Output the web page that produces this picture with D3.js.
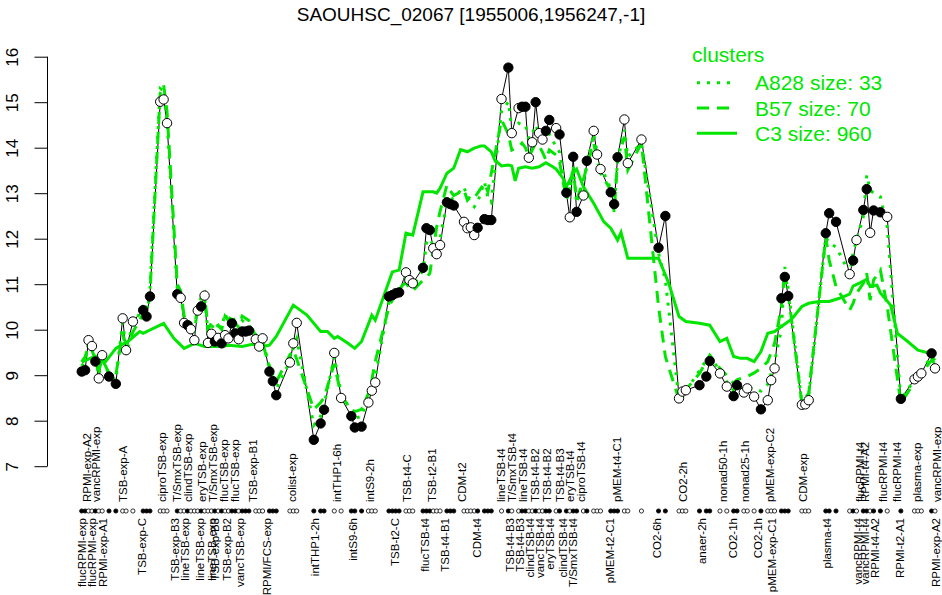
<!DOCTYPE html>
<html><head><meta charset="utf-8">
<script src="https://cdn.jsdelivr.net/npm/d3@7"></script>
<style>
body{margin:0;background:#fff}
svg{display:block}
text{font-family:"Liberation Sans",Arial,Helvetica,sans-serif}
</style>
</head><body>
<svg id="chart" width="942" height="595"></svg>
<script>
// ---- data ----
const title = "SAOUHSC_02067 [1955006,1956247,-1]";
const slots = [0,1,2,3,4,5,6,8,10,12,13,15,18,19,20,23,24,25,28,29,30,31,32,33,34,35,36,37,38,39,40,41,42,43,44,45,46,47,48,49,51,52,53,55,56,57,61,62,63,68,70,71,74,76,79,80,82,84,85,86,90,91,92,93,95,96,97,100,101,102,103,104,105,107,108,109,112,113,114,115,116,118,119,120,123,125,126,128,129,130,131,132,133,134,135,136,137,139,140,142,143,144,145,147,148,150,151,152,155,156,157,159,160,164,169,171,175,176,177,181,183,184,187,189,191,192,194,195,197,199,201,202,203,205,206,207,211,212,213,218,219,221,225,226,227,229,230,231,232,234,236,240,244,245,246,249,250];
const values = [9.08,9.11,9.77,9.64,9.30,8.93,9.44,8.97,8.81,10.25,9.55,10.18,10.43,10.29,10.73,15.01,15.06,14.54,10.78,10.70,10.15,10.10,10.01,9.77,10.42,10.51,10.75,9.71,9.91,9.74,9.82,9.70,9.88,9.81,10.14,9.92,9.79,9.96,9.96,9.98,9.79,9.63,9.81,9.08,8.87,8.56,9.28,9.70,10.15,7.58,7.94,8.24,9.49,8.50,8.10,7.85,7.87,8.40,8.66,8.84,10.73,10.76,10.80,10.82,11.26,11.09,11.02,11.36,12.23,12.19,11.79,11.66,11.86,12.80,12.76,12.73,12.37,12.23,12.25,12.08,12.24,12.43,12.41,12.41,15.07,15.76,14.32,14.87,14.90,14.90,13.78,14.12,15.00,14.32,14.18,14.37,14.61,14.43,14.29,13.01,12.47,13.80,12.59,12.95,13.71,14.37,13.85,13.53,13.02,12.76,13.79,14.62,13.66,14.18,11.80,12.50,8.49,8.64,8.67,8.78,8.97,9.31,9.04,8.75,8.54,8.78,8.62,8.71,8.53,8.25,8.45,8.89,9.15,10.69,11.16,10.74,8.35,8.36,8.45,12.12,12.56,12.37,11.22,11.52,11.97,12.63,13.09,12.13,12.62,12.58,12.48,8.48,8.91,8.97,9.04,9.48,9.15];
const filled = [1,1,0,0,1,0,0,1,1,0,0,0,1,1,1,0,0,0,1,0,0,1,0,0,0,1,0,0,0,1,0,1,0,0,1,1,0,1,1,1,0,0,0,1,1,1,0,0,0,1,1,1,0,0,1,1,1,0,0,0,1,1,1,1,0,0,0,1,1,1,0,0,0,1,1,1,0,0,0,0,1,1,1,1,0,1,0,0,1,1,0,0,1,0,0,1,1,0,1,1,0,1,1,0,1,0,0,0,1,1,1,0,0,0,1,1,0,0,0,1,1,1,0,0,1,1,0,0,0,1,0,0,0,1,1,1,0,0,0,1,1,1,0,1,0,1,1,0,1,1,0,1,0,0,0,1,0];
const b57 = [9.30,9.40,9.65,9.55,9.35,9.10,9.35,9.05,9.00,9.95,9.50,9.95,10.35,10.35,10.80,15.20,15.38,14.80,11.00,10.85,10.30,10.25,10.10,10.00,10.55,10.70,10.80,10.00,10.15,10.05,10.10,10.00,10.30,10.20,10.35,10.15,10.05,10.30,10.25,10.20,9.85,9.75,9.70,9.20,9.00,8.85,9.45,9.55,9.35,8.25,8.40,8.50,9.25,8.55,8.25,8.20,8.25,8.60,8.90,9.30,10.50,10.65,10.75,10.90,11.05,10.90,10.85,11.09,11.15,11.24,11.75,12.26,12.60,13.18,13.05,12.95,13.07,12.85,12.95,12.90,13.00,13.22,13.03,13.44,14.61,14.30,13.95,14.02,14.10,14.00,13.80,13.95,14.10,14.05,13.90,13.73,13.95,13.84,13.69,12.85,13.10,13.51,12.85,13.29,13.60,14.10,13.73,13.44,13.07,12.59,13.73,14.24,13.51,14.10,10.51,9.41,8.46,8.55,8.68,9.04,9.30,9.44,9.15,9.00,8.82,8.90,8.95,8.97,9.05,9.15,9.30,9.50,9.70,10.51,11.31,10.80,8.38,8.50,8.60,12.04,11.53,10.95,10.43,10.58,10.80,11.02,11.24,10.65,11.09,11.31,10.51,8.38,8.85,8.95,9.04,9.33,9.25];
const a828 = [9.20,9.30,9.70,9.60,9.35,9.00,9.40,9.00,8.90,10.15,9.60,10.10,10.50,10.40,10.90,15.30,15.25,14.60,10.90,10.75,10.30,10.20,10.15,9.95,10.50,10.60,10.70,9.95,10.10,10.00,10.07,10.05,10.36,10.15,10.30,10.10,10.00,10.20,10.15,10.10,9.90,9.70,9.80,9.15,8.95,8.70,9.30,9.60,9.80,7.90,8.10,8.35,9.40,8.60,8.20,8.05,8.10,8.55,8.75,8.95,10.60,10.70,10.75,10.85,11.15,11.00,10.95,11.30,11.90,12.00,11.85,11.80,12.00,12.78,12.85,12.90,13.14,12.90,12.80,12.70,12.80,13.25,12.90,12.80,14.80,15.01,14.40,14.54,14.50,14.50,14.20,14.30,14.50,14.30,14.20,14.25,14.30,14.02,13.90,12.92,13.10,13.60,12.78,13.30,13.58,14.30,13.90,13.60,13.10,12.70,13.70,14.39,13.80,14.10,11.68,11.09,8.46,8.55,8.65,9.10,9.33,9.41,9.10,8.85,8.67,8.75,8.70,8.72,8.70,8.65,8.80,9.04,9.30,10.00,11.38,10.90,8.38,8.45,8.55,12.04,11.90,11.82,11.24,11.68,11.97,12.48,13.40,13.07,13.00,12.92,12.26,8.46,8.90,9.00,9.10,9.41,9.30];
const c3Slots = [0,4,7,10,12,14,17,18,24,27,30,32,33,36,41,43,47,50,53,55,57,62,66,70,72,74,75,78,80,82,85,86,91,93,95,97,100,103,104,105,107,109,111,113,115,117,118,120,121,123,125,126,127,128,130,132,134,136,138,139,141,142,144,145,147,150,153,155,157,158,160,169,172,175,177,181,184,187,189,191,193,195,197,199,201,203,205,208,211,213,216,219,222,225,226,228,230,231,233,234,237,239,242,245,248,250];
const c3Values = [9.29,9.42,9.30,9.59,9.68,9.77,9.96,9.92,10.14,9.81,9.59,9.66,9.70,9.63,9.63,9.66,9.63,9.68,9.63,9.66,9.85,10.54,10.32,9.96,9.96,9.81,9.85,9.70,9.59,9.74,10.32,10.21,11.27,11.31,12.12,12.08,13.03,13.03,13.00,13.11,13.44,13.55,13.96,13.91,13.99,14.04,14.04,13.91,13.73,13.60,13.62,13.60,13.27,13.55,13.58,13.55,13.58,13.67,13.58,13.53,13.33,13.14,13.44,13.53,13.14,12.78,12.37,12.23,11.97,12.14,11.57,11.57,11.02,10.29,10.18,10.14,10.10,9.74,9.81,9.41,9.37,9.37,9.30,9.52,9.92,9.96,10.07,10.23,10.51,10.58,10.62,10.62,10.69,10.78,10.96,11.03,11.11,10.95,10.98,10.81,10.54,9.92,9.74,9.55,9.49,9.33];
const topLabels = ["RPMI-exp-A2","vancRPMI-exp","TSB-exp-A","ciproTSB-exp","T/SmxTSB-exp","clindTSB-exp","eryTSB-exp","T/SmxTSB-exp","flucTSB-exp","flucTSB-exp","TSB-exp-B1","colist-exp","intTHP1-6h","intS9-2h","TSB-t4-C","TSB-t2-B1","CDM-t2","lineTSB-t4","T/SmxTSB-t4","lineTSB-t4","TSB-t4-B2","TSB-t4-B2","TSB-t4-B3","eryTSB-t4","ciproTSB-t4","pMEM-t4-C1","CO2-2h","nonad50-1h","nonad25-1h","pMEM-exp-C2","CDM-exp","flucRPMI-t4","RPMI-t4-A2","flucRPMI-t4","flucRPMI-t4","plasma-exp","vancRPMI-exp"];
const topSlots = [1.5,4.2,12.1,23.4,27.8,31.1,35.2,38.5,41.7,44.9,50.1,61.5,74.7,84.5,95.2,102.5,111.3,122.9,126,129.4,132.8,136.4,140.1,143.1,146.2,156.8,176.3,188,194.3,201.7,211.4,228,229.5,234.9,238.8,244.7,250.5];
const bottomLabels = ["flucRPMI-exp","flucRPMI-exp","RPMI-exp-A1","TSB-exp-C","TSB-exp-B3","lineTSB-exp","lineTSB-exp","lineTSB-exp","TSB-exp-B3","TSB-exp-B2","vancTSB-exp","RPMI/FCS-exp","intTHP1-2h","intS9-6h","TSB-t2-C","flucTSB-t4","TSB-t4-B1","CDM-t4","TSB-t4-B3","TSB-t4-B3","clindTSB-t4","vancTSB-t4","eryTSB-t4","clindTSB-t4","T/SmxTSB-t4","pMEM-t2-C1","CO2-6h","anaer-2h","CO2-1h","CO2-1h","pMEM-exp-C1","plasma-t4","vancRPMI-t4","vancRPMI-t4","RPMI-t4-A2","RPMI-t2-A1","RPMI-exp-A2"];
const bottomSlots = [0,2.9,6.3,17.6,27.3,30.3,34.7,38.2,39.1,42.5,46.4,54.2,68.4,79.4,91.8,100.6,106.4,115.7,125.5,128.4,131.3,134.3,137.2,140.9,144,154.8,168.5,181.7,190.9,198.2,202.2,218.3,227.5,229.5,232.4,239.7,250.3];
const yTicks = [7,8,9,10,11,12,13,14,15,16];
const legendTitle = "clusters";
const legendNames = ["A828 size: 33","B57 size: 70","C3 size: 960"];

// ---- drawing ----
const green = "#00e600";
const svg = d3.select("#chart");
const x = d3.scaleLinear().domain([0,250]).range([81.7,935]);
const y = d3.scaleLinear().domain([7,16]).range([466.2,56.7]);

svg.append("text").attr("x",471).attr("y",21).attr("text-anchor","middle")
  .attr("font-size",19).text(title);

// y axis
const yAxis = d3.axisLeft(y).tickValues(yTicks).tickSize(13).tickPadding(0).tickFormat(d3.format("d"));
const gy = svg.append("g").attr("transform","translate(47.5,0)").call(yAxis);
gy.select(".domain").attr("stroke","#000").attr("d",`M0,${y(7)}V${y(16)}`);
gy.selectAll(".tick line").attr("stroke","#000");
gy.selectAll(".tick text").attr("font-size",17).attr("font-family","Liberation Sans, Arial, sans-serif")
  .attr("text-anchor","middle").attr("x",null).attr("dy",null)
  .attr("transform","translate(-30,0) rotate(-90)").attr("y",0);

const pts = slots.map((s,i)=>({s, v:values[i], f:filled[i], b:b57[i], a:a828[i]}));

// black connecting line
svg.append("path").datum(pts)
  .attr("d", d3.line().x(d=>x(d.s)).y(d=>y(d.v)))
  .attr("fill","none").attr("stroke","#000").attr("stroke-width",1);

// cluster lines
svg.append("path").datum(c3Slots.map((s,i)=>({s, v:c3Values[i]})))
  .attr("d", d3.line().x(d=>x(d.s)).y(d=>y(d.v)))
  .attr("fill","none").attr("stroke",green).attr("stroke-width",3);
svg.append("path").datum(pts)
  .attr("d", d3.line().x(d=>x(d.s)).y(d=>y(d.b)))
  .attr("fill","none").attr("stroke",green).attr("stroke-width",3).attr("stroke-dasharray","12,8");
svg.append("path").datum(pts)
  .attr("d", d3.line().x(d=>x(d.s)).y(d=>y(d.a)))
  .attr("fill","none").attr("stroke",green).attr("stroke-width",3).attr("stroke-dasharray","3,7");

// points
svg.append("g").selectAll("circle").data(pts).join("circle")
  .attr("cx",d=>x(d.s)).attr("cy",d=>y(d.v)).attr("r",4.7)
  .attr("fill",d=>d.f?"#000":"#fff").attr("stroke","#000").attr("stroke-width",1);

// dot row
svg.append("g").selectAll("circle").data(pts).join("circle")
  .attr("cx",d=>x(d.s)).attr("cy",511).attr("r",2.1)
  .attr("fill",d=>d.f?"#000":"#fff").attr("stroke","#000").attr("stroke-width",0.8);

// condition labels
svg.append("g").selectAll("text").data(topLabels).join("text")
  .attr("transform",(d,i)=>`translate(${x(topSlots[i])},502) rotate(-90)`)
  .attr("dy","0.35em").attr("font-size",11.5).attr("text-anchor","start").text(d=>d);
svg.append("g").selectAll("text").data(bottomLabels).join("text")
  .attr("transform",(d,i)=>`translate(${x(bottomSlots[i])},518) rotate(-90)`)
  .attr("dy","0.35em").attr("font-size",11.5).attr("text-anchor","end").text(d=>d);

// legend
const lg = svg.append("g");
lg.append("text").attr("x",692).attr("y",62).attr("font-size",21).attr("fill",green).text(legendTitle);
const dashes = ["3,7","12,8",null];
legendNames.forEach((n,i)=>{
  const cy = 82.7 + i*25.3;
  const ln = lg.append("line").attr("x1",697).attr("x2",737).attr("y1",cy).attr("y2",cy)
    .attr("stroke",green).attr("stroke-width",3);
  if(dashes[i]) ln.attr("stroke-dasharray",dashes[i]);
  lg.append("text").attr("x",755).attr("y",cy+7.5).attr("font-size",21).attr("fill",green).text(n);
});
</script>
</body></html>
